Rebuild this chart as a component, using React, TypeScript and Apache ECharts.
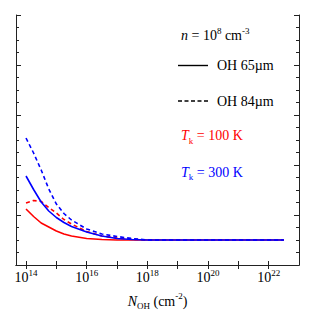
import React, { useEffect, useRef } from "react";
import * as echarts from "echarts";

const logN = [14, 14.25, 14.5, 14.75, 15, 15.25, 15.5, 16, 16.5, 17, 17.5, 18, 19, 20, 21, 22, 22.5];
const oh65T100 = [1.12, 0.97, 0.84, 0.76, 0.68, 0.62, 0.58, 0.53, 0.51, 0.5, 0.5, 0.5, 0.5, 0.5, 0.5, 0.5, 0.5];
const oh84T100 = [1.24, 1.29, 1.27, 1.15, 1.04, 0.91, 0.82, 0.67, 0.58, 0.54, 0.515, 0.5, 0.5, 0.5, 0.5, 0.5, 0.5];
const oh65T300 = [1.78, 1.51, 1.26, 1.08, 0.95, 0.85, 0.77, 0.66, 0.58, 0.53, 0.51, 0.5, 0.5, 0.5, 0.5, 0.5, 0.5];
const oh84T300 = [2.54, 2.24, 1.9, 1.52, 1.22, 1.03, 0.9, 0.72, 0.62, 0.57, 0.53, 0.5, 0.5, 0.5, 0.5, 0.5, 0.5];
const xTicks = [14, 15, 16, 17, 18, 19, 20, 21, 22];
const xLabels = [14, 16, 18, 20, 22];

const FONT = "Liberation Serif, Times New Roman, serif";
const AX = "#222";
const LH = 19;

const pts = (arr: number[]) => logN.map((x, i) => [x, arr[i]]);

const richBase = {
  sup: { fontSize: 9, fontFamily: FONT, verticalAlign: "top" as const, lineHeight: 9 },
  sub: { fontSize: 9, fontFamily: FONT, verticalAlign: "bottom" as const, lineHeight: 10 },
  i: { fontSize: 14, fontFamily: FONT, fontStyle: "italic" as const, lineHeight: LH },
  r: { fontSize: 14, fontFamily: FONT, lineHeight: LH },
};

export default function App() {
  const ref = useRef<HTMLDivElement>(null);
  useEffect(() => {
    const chart = echarts.init(ref.current!, null, { renderer: "svg" });
    const xCommon = {
      type: "value" as const,
      min: 13.67,
      max: 23,
      splitLine: { show: false },
      axisLine: { lineStyle: { color: AX, width: 1 } },
      axisTick: { inside: true, length: 4, customValues: xTicks, lineStyle: { color: AX } },
    };
    const yCommon = {
      type: "value" as const,
      min: 0,
      max: 5,
      interval: 1,
      splitLine: { show: false },
      axisLabel: { show: false },
      axisLine: { show: true, lineStyle: { color: AX, width: 1 } },
      axisTick: { show: true, inside: true, length: 5, lineStyle: { color: AX } },
      minorTick: { show: true, splitNumber: 4, length: 3, lineStyle: { color: AX } },
    };
    const line = (data: number[], color: string, dashed: boolean) => ({
      type: "line",
      data: pts(data),
      symbol: "none",
      lineStyle: { color, width: 1.6, type: dashed ? [4, 3] : "solid" },
      xAxisIndex: 0,
      yAxisIndex: 0,
    });
    const txt = (text: string, left: number, top: number, fill: string) => ({
      type: "text",
      left,
      top,
      style: { text, fontSize: 14, fontFamily: FONT, lineHeight: LH, fill, rich: richBase },
    });
    chart.setOption({
      animation: false,
      textStyle: { fontFamily: FONT },
      grid: { left: 16, right: 33, top: 15, bottom: 67 },
      xAxis: [
        {
          ...xCommon,
          position: "bottom",
          name: "{i|N}{sub|OH}{r| (cm}{sup|-2}{r|)}",
          nameLocation: "middle",
          nameGap: 20,
          nameTextStyle: { fontSize: 14, fontFamily: FONT, lineHeight: LH, color: "#000", rich: richBase },
          axisLabel: {
            customValues: xLabels,
            formatter: (v: number) => `{r|10}{sup|${Math.round(v)}}`,
            fontSize: 14,
            fontFamily: FONT,
            lineHeight: LH,
            color: "#000",
            margin: 3,
            rich: richBase,
          },
        },
        {
          ...xCommon,
          position: "top",
          axisLabel: { show: false },
        },
      ],
      yAxis: [
        { ...yCommon, position: "left" },
        { ...yCommon, position: "right" },
      ],
      series: [
        line(oh65T100, "#ff0000", false),
        line(oh84T100, "#ff0000", true),
        line(oh65T300, "#0000ff", false),
        line(oh84T300, "#0000ff", true),
      ],
      graphic: [
        txt("{i|n}{r| = 10}{sup|8}{r| cm}{sup|-3}", 181, 26, "#000"),
        { type: "line", shape: { x1: 178, y1: 65.5, x2: 208, y2: 65.5 }, style: { stroke: "#000", lineWidth: 1.4 } },
        txt("{r|OH 65µm}", 217, 55.5, "#000"),
        { type: "line", shape: { x1: 178, y1: 101, x2: 208, y2: 101 }, style: { stroke: "#000", lineWidth: 1.4, lineDash: [4, 2.5] } },
        txt("{r|OH 84µm}", 217, 91.5, "#000"),
        txt("{i|T}{sub|k}{r| = 100 K}", 181, 126, "#ff0000"),
        txt("{i|T}{sub|k}{r| = 300 K}", 181, 162.5, "#0000ff"),
      ],
    });
    return () => chart.dispose();
  }, []);
  return <div ref={ref} style={{ width: 332, height: 332, position: "absolute", left: 0, top: 0 }} />;
}
